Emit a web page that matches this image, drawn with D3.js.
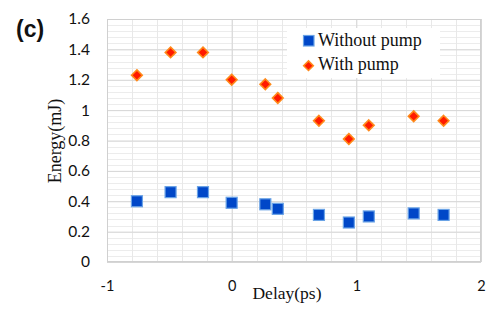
<!DOCTYPE html>
<html>
<head>
<meta charset="utf-8">
<script src="https://cdn.jsdelivr.net/npm/d3@7"></script>
<style>
  body { margin: 0; background: #fff; }
  svg { display: block; }
</style>
</head>
<body>
<svg width="498" height="309"></svg>
<script>
  // delay (ps) for each measurement
  const delays = [-0.76, -0.49, -0.23, 0, 0.27, 0.37, 0.70, 0.94, 1.10, 1.46, 1.70];
  const withoutPump = [0.40, 0.46, 0.46, 0.39, 0.38, 0.35, 0.31, 0.26, 0.30, 0.32, 0.31];
  const withPump = [1.23, 1.38, 1.38, 1.20, 1.17, 1.08, 0.93, 0.81, 0.90, 0.96, 0.93];
  const xTicks = [-1, 0, 1, 2];
  const yTicks = [0, 0.2, 0.4, 0.6, 0.8, 1, 1.2, 1.4, 1.6];
  const seriesNames = ['Without pump', 'With pump'];

  const svg = d3.select('svg');
  const margin = { top: 19, right: 17, bottom: 47, left: 107 };
  const width = 498, height = 309;
  const innerWidth = width - margin.left - margin.right;
  const innerHeight = height - margin.top - margin.bottom;

  const xScale = d3.scaleLinear().domain([-1, 2]).range([0, innerWidth]);
  const yScale = d3.scaleLinear().domain([0, 1.6]).range([innerHeight, 0]);

  const g = svg.append('g')
    .attr('transform', `translate(${margin.left},${margin.top})`);

  // minor horizontal grid every 0.04
  const yMinor = d3.range(0, 1.6001, 0.04);
  g.selectAll('.hminor').data(yMinor).enter().append('line')
    .attr('x1', 0).attr('x2', innerWidth)
    .attr('y1', d => Math.round(yScale(d)) + 0.5)
    .attr('y2', d => Math.round(yScale(d)) + 0.5)
    .attr('stroke', '#ececec');

  // minor vertical grid every 0.2
  const xMinor = d3.range(-1, 2.0001, 0.2);
  g.selectAll('.vminor').data(xMinor).enter().append('line')
    .attr('y1', 0).attr('y2', innerHeight)
    .attr('x1', d => Math.round(xScale(d)) + 0.5)
    .attr('x2', d => Math.round(xScale(d)) + 0.5)
    .attr('stroke', '#e8e8e8');

  // major grid + tick labels
  const yAxis = d3.axisLeft(yScale).tickValues(yTicks)
    .tickSize(-innerWidth).tickPadding(17)
    .tickFormat(d => String(+d.toFixed(1)));
  const yAxisG = g.append('g').call(yAxis);
  yAxisG.select('.domain').remove();
  yAxisG.selectAll('line').attr('stroke', '#d6d6d6');
  yAxisG.selectAll('text')
    .attr('font-family', 'Lato, sans-serif')
    .attr('font-size', 15.5).attr('fill', '#111');

  const xAxis = d3.axisBottom(xScale).tickValues(xTicks)
    .tickSize(-innerHeight).tickPadding(19)
    .tickFormat(d => String(d));
  const xAxisG = g.append('g')
    .attr('transform', `translate(0,${innerHeight})`)
    .call(xAxis);
  xAxisG.select('.domain').remove();
  xAxisG.selectAll('line').attr('stroke', '#d6d6d6');
  xAxisG.selectAll('text')
    .attr('font-family', 'Lato, sans-serif')
    .attr('font-size', 14.5).attr('fill', '#111');

  // plot border
  g.append('rect')
    .attr('x', 0.5).attr('y', 0.5)
    .attr('width', innerWidth - 1).attr('height', innerHeight - 1)
    .attr('fill', 'none').attr('stroke', '#d0d0d0');

  // points
  const sq = 11;
  const blue = '#0047c8', blueEdge = '#6aa3e6';
  const red = '#ff1a00', redEdge = '#ff8a1a';
  g.selectAll('.sq').data(delays).enter().append('rect')
    .attr('x', d => xScale(d) - sq / 2)
    .attr('y', (d, i) => yScale(withoutPump[i]) - sq / 2)
    .attr('width', sq).attr('height', sq)
    .attr('fill', blue).attr('stroke', blueEdge).attr('stroke-width', 1.2);

  const diamond = d3.symbol().type(d3.symbolDiamond2).size(72);
  g.selectAll('.dm').data(delays).enter().append('path')
    .attr('d', diamond)
    .attr('transform', (d, i) => `translate(${xScale(d)},${yScale(withPump[i])})`)
    .attr('fill', red).attr('stroke', redEdge).attr('stroke-width', 1.6);

  // legend
  const legend = svg.append('g').attr('transform', 'translate(287,28)');
  legend.append('rect')
    .attr('x', 0).attr('y', 0).attr('width', 153).attr('height', 50)
    .attr('fill', '#fff');
  legend.append('rect')
    .attr('x', 16.5).attr('y', 7.5).attr('width', 10.5).attr('height', 10.5)
    .attr('fill', blue).attr('stroke', blueEdge).attr('stroke-width', 1.2);
  legend.append('path')
    .attr('d', d3.symbol().type(d3.symbolDiamond2).size(60))
    .attr('transform', 'translate(21.5,37.7)')
    .attr('fill', red).attr('stroke', redEdge).attr('stroke-width', 1.5);
  legend.selectAll('.lt').data(seriesNames).enter().append('text')
    .attr('x', 31)
    .attr('y', (d, i) => 17.7 + i * 24.3)
    .attr('font-family', 'Liberation Serif, serif')
    .attr('font-size', 18).attr('fill', '#111')
    .text(d => d);

  // axis titles
  svg.append('text')
    .attr('x', 287).attr('y', 299)
    .attr('text-anchor', 'middle')
    .attr('font-family', 'Liberation Serif, serif')
    .attr('font-size', 17.5).attr('fill', '#111')
    .text('Delay(ps)');

  svg.append('text')
    .attr('transform', 'translate(61,141) rotate(-90)')
    .attr('text-anchor', 'middle')
    .attr('font-family', 'Liberation Serif, serif')
    .attr('font-size', 18).attr('fill', '#111')
    .text('Energy(mJ)');

  // panel label
  svg.append('text')
    .attr('x', 16).attr('y', 37)
    .attr('font-family', 'Liberation Sans, sans-serif')
    .attr('font-size', 23).attr('font-weight', 'bold').attr('fill', '#111')
    .text('(c)');
</script>
</body>
</html>
